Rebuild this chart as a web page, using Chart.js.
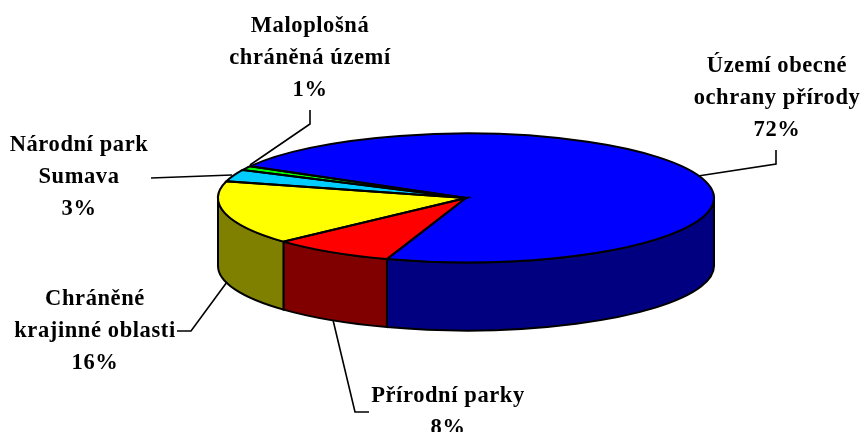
<!DOCTYPE html>
<html>
<head>
<meta charset="utf-8">
<title>Chart</title>
<script src="https://cdn.jsdelivr.net/npm/chart.js@4"></script>
<style>
  html, body { margin: 0; padding: 0; background: #fff; }
  canvas { display: block; }
</style>
</head>
<body>
<canvas id="pieChart" width="861" height="432"></canvas>
<script>
const categories = ['Území obecné ochrany přírody', 'Přírodní parky', 'Chráněné krajinné oblasti', 'Národní park Sumava', 'Maloplošná chráněná území'];
const values = [72, 8, 16, 3, 1];
const topColors = ['#0000ff', '#ff0000', '#ffff00', '#00ccff', '#00ff00'];
const wallColors = ['#000080', '#800000', '#808000', '#006080', '#008000'];

// label text blocks, one per slice, same order as categories
const labelLines = [
    ['Území obecné', 'ochrany přírody'],
    ['Přírodní parky'],
    ['Chráněné', 'krajinné oblasti'],
    ['Národní park', 'Sumava'],
    ['Maloplošná', 'chráněná území']
];
const labelX = [777, 448, 95, 79, 310];
const labelY = [66, 396, 299, 145, 26];
const labelLineHeight = 32;
const leaders = [
    [[776, 150], [776, 164], [698, 176]],
    [[369, 412], [355, 412], [333, 320]],
    [[177, 331], [191, 331], [227, 282]],
    [[151, 178], [232, 175]],
    [[310, 110], [310, 124], [250, 165]]
];

const squash = 0.26;   // ellipse height / width of the tilted top face
const depth = 68;      // wall height in px

const pie3d = {
    id: 'pie3d',
    beforeDatasetsDraw(chart) {
        let ctx = chart.ctx;
        let arcs = chart.getDatasetMeta(0).data;
        let twoPi = Math.PI * 2;

        ctx.save();
        ctx.lineWidth = 2;
        ctx.strokeStyle = '#000';
        arcs.forEach((arc, i) => {
            // only the part of a slice on the front half of the disc has a visible wall
            for (let k = -1; k <= 2; k++) {
                let from = Math.max(arc.startAngle, k * twoPi);
                let to = Math.min(arc.endAngle, k * twoPi + Math.PI);
                if (to <= from) continue;
                ctx.beginPath();
                ctx.ellipse(arc.x, arc.y, arc.outerRadius, arc.outerRadius * squash, 0, from, to);
                ctx.ellipse(arc.x, arc.y + depth, arc.outerRadius, arc.outerRadius * squash, 0, to, from, true);
                ctx.closePath();
                ctx.fillStyle = wallColors[i];
                ctx.fill();
                ctx.stroke();
            }
        });
        ctx.restore();

        // top face: the library draws round slices, squash them here
        let first = arcs[0];
        ctx.save();
        ctx.translate(first.x, first.y);
        ctx.scale(1, squash);
        ctx.translate(-first.x, -first.y);
    },
    afterDatasetsDraw(chart) {
        let ctx = chart.ctx;
        let arcs = chart.getDatasetMeta(0).data;
        ctx.restore();

        ctx.save();
        ctx.lineWidth = 2;
        ctx.strokeStyle = '#000';
        arcs.forEach(arc => {
            ctx.beginPath();
            ctx.moveTo(arc.x, arc.y);
            ctx.ellipse(arc.x, arc.y, arc.outerRadius, arc.outerRadius * squash, 0, arc.startAngle, arc.endAngle);
            ctx.closePath();
            ctx.stroke();
        });

        ctx.lineWidth = 1.6;
        leaders.forEach(points => {
            ctx.beginPath();
            points.forEach((p, i) => i ? ctx.lineTo(p[0], p[1]) : ctx.moveTo(p[0], p[1]));
            ctx.stroke();
        });

        ctx.fillStyle = '#000';
        ctx.font = 'bold 22.5px "Liberation Serif"';
        ctx.letterSpacing = '0.6px';
        ctx.textAlign = 'center';
        ctx.textBaseline = 'middle';
        labelLines.forEach((lines, i) => {
            let rows = lines.concat(values[i] + '%');
            rows.forEach((row, r) => {
                ctx.fillText(row, labelX[i], labelY[i] + r * labelLineHeight);
            });
        });
        ctx.restore();
    }
};

new Chart(document.getElementById('pieChart'), {
    type: 'pie',
    data: {
        labels: categories,
        datasets: [{
            data: values,
            backgroundColor: topColors,
            borderWidth: 0,
            clip: false
        }]
    },
    options: {
        responsive: false,
        animation: false,
        rotation: 299.4,
        radius: 248,
        layout: { padding: { left: 71, bottom: 36 } },
        plugins: {
            legend: { display: false },
            tooltip: { enabled: false }
        }
    },
    plugins: [pie3d]
});
</script>
</body>
</html>
